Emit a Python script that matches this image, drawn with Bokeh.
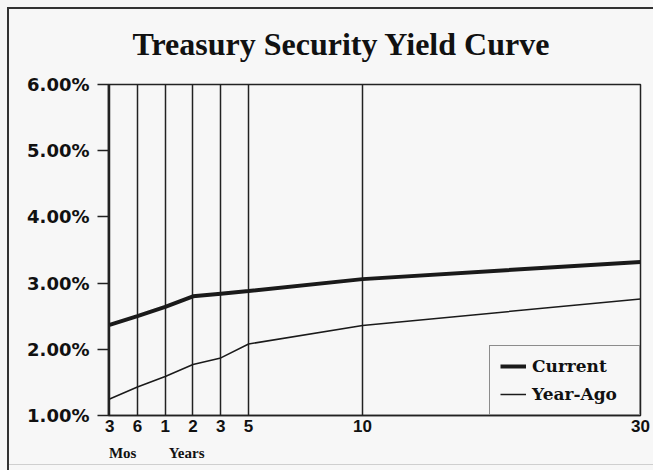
from bokeh.plotting import figure
from bokeh.models import FixedTicker, LinearAxis, PrintfTickFormatter, Range1d
from bokeh.embed import file_html
from bokeh.resources import INLINE

# ---- data ----
maturity_labels = ["3", "6", "1", "2", "3", "5", "10", "30"]
maturity_pos = [0, 1, 2, 3, 4, 5, 9.1, 19.1]          # chart's horizontal maturity scale
current = [2.37, 2.50, 2.64, 2.80, 2.84, 2.88, 3.06, 3.32]
year_ago = [1.25, 1.43, 1.59, 1.77, 1.87, 2.08, 2.36, 2.76]
y_ticks = [1, 2, 3, 4, 5, 6]
unit_labels = ["Mos", "Years"]
unit_pos = [0.47, 2.77]
title_text = "Treasury Security Yield Curve"

INK = "#222222"
BG = "#f7f7f7"

p = figure(width=653, height=470, output_backend="svg", toolbar_location=None,
           x_range=Range1d(-0.04, 19.1), y_range=Range1d(1, 6),
           min_border_left=108, min_border_right=13, min_border_top=84, min_border_bottom=55,
           background_fill_color=BG, border_fill_color=BG, border_fill_alpha=0.0)

# outer box of the original page (left/top rule, faint bottom rule) drawn behind the canvas
p.styles = {
    "background-color": BG,
    "background-image": "linear-gradient(#333,#333), linear-gradient(#333,#333), linear-gradient(#cfcfcf,#cfcfcf)",
    "background-size": "100% 2px, 2px 100%, 100% 1px",
    "background-position": "7px 7px, 7px 7px, 7px 464px",
    "background-repeat": "no-repeat",
}

p.title.text = title_text
p.title.text_font = "Liberation Serif"
p.title.text_font_style = "bold"
p.title.text_font_size = "32px"
p.title.text_color = "#111111"
p.title.align = "left"
p.title.offset = 24
p.title.standoff = 45

p.outline_line_color = INK
p.outline_line_width = 1.5

# lines
p.line(maturity_pos, current, line_width=4, color="#1a1a1a", legend_label="Current")
p.line(maturity_pos, year_ago, line_width=1.5, color="#1a1a1a", legend_label="Year-Ago")

# x axis
xt = FixedTicker(ticks=maturity_pos)
p.xaxis.ticker = xt
p.xaxis.major_label_overrides = dict(zip(maturity_pos, maturity_labels))
p.xaxis.major_tick_out = 0
p.xaxis.major_tick_in = 0
p.xaxis.minor_tick_out = 0
p.xaxis.minor_tick_in = 0
p.xaxis.axis_line_color = INK
p.xaxis.axis_line_width = 1.5
p.xaxis.major_label_text_font = "Liberation Sans"
p.xaxis.major_label_text_font_style = "bold"
p.xaxis.major_label_text_font_size = "17px"
p.xaxis.major_label_text_color = "#111111"
p.xaxis.major_label_standoff = 4

ux = LinearAxis(ticker=FixedTicker(ticks=unit_pos),
                major_label_overrides=dict(zip(unit_pos, unit_labels)),
                axis_line_color=None, major_tick_out=0, major_tick_in=0,
                minor_tick_out=0, minor_tick_in=0,
                major_label_text_font="Liberation Serif",
                major_label_text_font_style="bold",
                major_label_text_font_size="15px",
                major_label_text_color="#111111",
                major_label_standoff=10)
p.add_layout(ux, "below")

# y axis
p.yaxis.ticker = FixedTicker(ticks=y_ticks)
p.yaxis.formatter = PrintfTickFormatter(format="%.2f%%")
p.yaxis.major_tick_out = 11
p.yaxis.major_tick_in = 0
p.yaxis.minor_tick_out = 0
p.yaxis.minor_tick_in = 0
p.yaxis.major_tick_line_color = INK
p.yaxis.major_tick_line_width = 1.5
p.yaxis.axis_line_color = INK
p.yaxis.axis_line_width = 1.5
p.yaxis.major_label_text_font = "DejaVu Sans"
p.yaxis.major_label_text_font_style = "bold"
p.yaxis.major_label_text_font_size = "18px"
p.yaxis.major_label_text_color = "#111111"
p.yaxis.major_label_standoff = 8

# grid
p.xgrid.ticker = xt
p.xgrid.grid_line_color = INK
p.xgrid.grid_line_width = 1.5
p.ygrid.visible = False

# legend
lg = p.legend[0]
lg.location = "bottom_right"
lg.margin = 0
lg.padding = 10
lg.spacing = 8
lg.glyph_width = 26
lg.glyph_height = 20
lg.label_height = 20
lg.label_width = 97
lg.label_standoff = 6
lg.label_text_font = "DejaVu Serif"
lg.label_text_font_style = "bold"
lg.label_text_font_size = "17px"
lg.label_text_color = "#111111"
lg.border_line_color = INK
lg.border_line_width = 1.5
lg.background_fill_color = BG
lg.background_fill_alpha = 1.0

open("out.html", "w").write(file_html(p, INLINE))
